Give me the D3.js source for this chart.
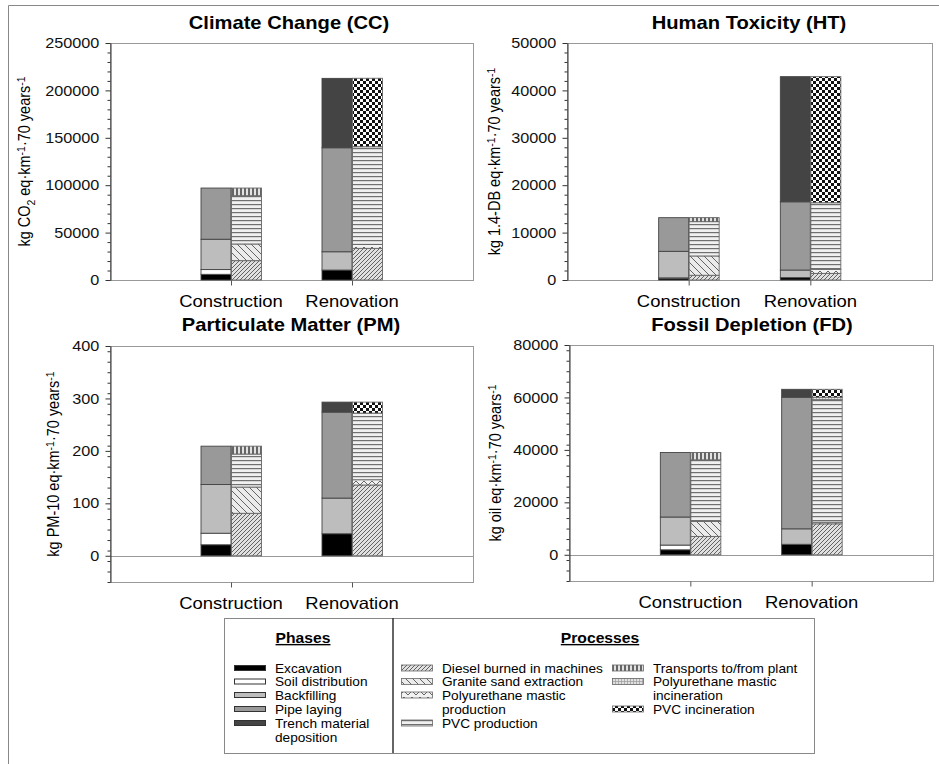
<!DOCTYPE html>
<html>
<head>
<meta charset="utf-8">
<script src="https://cdn.jsdelivr.net/npm/d3@7"></script>
<style>
body { margin: 0; background: #fff; }
text { font-family: "Liberation Sans", Arial, sans-serif; fill: #000; }
</style>
</head>
<body>
<div id="chart"></div>
<script>

var categories = ["Construction", "Renovation"];
var phases = ["Excavation", "Soil distribution", "Backfilling", "Pipe laying", "Trench material deposition"];
var processes = ["Diesel burned in machines", "Granite sand extraction", "Polyurethane mastic production",
  "PVC production", "Transports to/from plant", "Polyurethane mastic incineration", "PVC incineration"];

// one row per category (Construction, Renovation), one value per phase / process
var ccPhases = [[6000, 5000, 32000, 54000, 0], [10500, 0, 19300, 109700, 73200]];
var ccProcesses = [[20400, 17600, 0, 50900, 8100, 0, 0], [33400, 0, 4200, 103000, 0, 0, 72200]];
var htPhases = [[350, 100, 5600, 7100, 0], [500, 0, 1600, 14400, 26400]];
var htProcesses = [[1000, 4070, 0, 7240, 850, 0, 0], [1400, 0, 850, 14050, 0, 0, 26600]];
var pmPhases = [[21, 22, 93, 73, 0], [42, 0, 68, 164, 19]];
var pmProcesses = [[81, 50, 0, 63, 15, 0, 0], [135, 0, 10, 127, 0, 0, 21]];
var fdPhases = [[1900, 1800, 10700, 24600, 0], [4000, 0, 5900, 50200, 3000]];
var fdProcesses = [[7000, 5700, 0, 23500, 2800, 0, 0], [11800, 0, 600, 46700, 0, 1000, 3000]];

var ccTicks = [0, 50000, 100000, 150000, 200000, 250000];
var htTicks = [0, 10000, 20000, 30000, 40000, 50000];
var pmTicks = [0, 100, 200, 300, 400];
var fdTicks = [0, 20000, 40000, 60000, 80000];

var W = 939, H = 764, SX = 1.12, barW = 30;

var phaseFill = ["#000", "#fff", "#bdbdbd", "#999", "#444"];
var processFill = ["url(#diesel)", "url(#granite)", "url(#puprod)", "url(#pvcprod)",
  "url(#transports)", "url(#puinc)", "url(#pvcinc)"];

var panels = [
  {title: "Climate Change (CC)", phases: ccPhases, processes: ccProcesses, ticks: ccTicks,
   domain: [0, 250000], minor: 10000, left: 110, right: 473, top: 43, bottom: 280,
   titleX: 289, titleY: 29, labelX: 30,
   unit: [["kg CO", 0], ["2", 1], [" eq·km", 0], ["-1", -1], ["·70 years", 0], ["-1", -1]]},
  {title: "Human Toxicity (HT)", phases: htPhases, processes: htProcesses, ticks: htTicks,
   domain: [0, 50000], minor: 2000, left: 567, right: 932, top: 43, bottom: 280,
   titleX: 749, titleY: 29, labelX: 500,
   unit: [["kg 1.4-DB eq·km", 0], ["-1", -1], ["·70 years", 0], ["-1", -1]]},
  {title: "Particulate Matter (PM)", phases: pmPhases, processes: pmProcesses, ticks: pmTicks,
   domain: [-50, 400], minor: 20, left: 110, right: 473, top: 346, bottom: 582,
   titleX: 291, titleY: 331, labelX: 59,
   unit: [["kg PM-10 eq·km", 0], ["-1", -1], ["·70 years", 0], ["-1", -1]]},
  {title: "Fossil Depletion (FD)", phases: fdPhases, processes: fdProcesses, ticks: fdTicks,
   domain: [-10000, 80000], minor: 4000, left: 569, right: 933, top: 345, bottom: 581,
   titleX: 752, titleY: 331, labelX: 501,
   unit: [["kg oil eq·km", 0], ["-1", -1], ["·70 years", 0], ["-1", -1]]}
];

var svg = d3.select("#chart").append("svg")
.attr("width", W)
.attr("height", H);

var defs = svg.append("defs");

function pattern(id, w, h, bg, d, stroke, sw, fill){
  var p = defs.append("pattern")
  .attr("id", id)
  .attr("patternUnits", "userSpaceOnUse")
  .attr("width", w)
  .attr("height", h);
  p.append("rect").attr("width", w).attr("height", h).attr("fill", bg);
  p.append("path")
  .attr("d", d)
  .attr("fill", fill || "none")
  .attr("stroke", stroke)
  .attr("stroke-width", sw);
}

pattern("diesel", 4, 4, "#e0e0e0", "M-1,1L1,-1M0,4L4,0M3,5L5,3", "#555", 0.9);
pattern("granite", 7, 7, "#ebebeb", "M0,0L7,7M-1,6L1,8M6,-1L8,1", "#555", 0.9);
pattern("puprod", 8, 6, "#f2f2f2", "M0,5L4,1L8,5", "#555", 0.9);
pattern("pvcprod", 4, 4, "#f0f0f0", "M0,0.6H4", "#707070", 1.2);
pattern("transports", 4, 4, "#e2e2e2", "M1,0V4", "#222", 1.3);
pattern("puinc", 3, 3, "#e0e0e0", "M0,0.5H3M0.5,0V3", "#999", 0.7);
pattern("pvcinc", 6, 6, "#fff", "M0,0h3v3h-3zM3,3h3v3h-3z", "none", 0, "#111");

// stretched text (the reference is a bit wider than tall)
function stretchText(parent, x, y, str, size, opts){
  opts = opts || {};
  var t = parent.append("text")
  .attr("transform", "translate(" + x + "," + y + ") scale(" + SX + ",1)" + (opts.rotate ? " rotate(-90)" : ""))
  .attr("font-size", size)
  .attr("text-anchor", opts.anchor || "start");
  if (opts.bold) t.attr("font-weight", "bold");
  if (opts.underline) t.attr("text-decoration", "underline");
  t.text(str);
  return t;
}

// outer frame
svg.append("path")
.attr("d", "M8.5,764V5.5H939")
.attr("fill", "none")
.attr("stroke", "#888");

panels.forEach(function(p){
  var g = svg.append("g");

  var y = d3.scaleLinear().domain(p.domain).range([p.bottom, p.top]);
  var x = d3.scalePoint().domain(["_l"].concat(categories, ["_r"])).range([p.left, p.right]);

  g.append("rect")
  .attr("x", p.left + 0.5)
  .attr("y", p.top + 0.5)
  .attr("width", p.right - p.left)
  .attr("height", p.bottom - p.top)
  .attr("fill", "#fff")
  .attr("stroke", "#999");

  if (p.domain[0] < 0){
    g.append("line")
    .attr("x1", p.left).attr("x2", p.right)
    .attr("y1", Math.round(y(0)) + 0.5).attr("y2", Math.round(y(0)) + 0.5)
    .attr("stroke", "#999");
  }

  var stackPh = d3.stack().keys(d3.range(phases.length)).value(function(d, k){ return d[k]; });
  var stackPr = d3.stack().keys(d3.range(processes.length)).value(function(d, k){ return d[k]; });

  function drawStack(series, fills, dx, stroke){
    g.append("g")
    .selectAll("g")
    .data(series)
    .join("g")
    .attr("fill", function(d, i){ return fills[i]; })
    .selectAll("rect")
    .data(function(d){
      return d.map(function(s, i){ return {y0: s[0], y1: s[1], cat: categories[i]}; })
      .filter(function(s){ return s.y1 - s.y0 > 0; });
    })
    .join("rect")
    .attr("x", function(d){ return x(d.cat) + dx; })
    .attr("y", function(d){ return y(d.y1); })
    .attr("width", barW)
    .attr("height", function(d){ return y(d.y0) - y(d.y1); })
    .attr("stroke", stroke)
    .attr("stroke-width", 0.9);
  }

  drawStack(stackPh(p.phases), phaseFill, -barW, "#444");
  drawStack(stackPr(p.processes), processFill, 0.5, "#666");

  // y axis, major + minor ticks
  var minorTicks = d3.range(p.domain[0], p.domain[1] + p.minor / 2, p.minor)
  .filter(function(v){ return p.ticks.indexOf(v) < 0; });

  var ax = g.append("g")
  .attr("transform", "translate(" + (p.left + 0.5) + ",0)")
  .call(d3.axisLeft(y).tickValues(p.ticks).tickSize(5).tickSizeOuter(0).tickPadding(5).tickFormat(d3.format("d")))
  .attr("font-size", null)
  .attr("font-family", null);
  ax.select(".domain").attr("stroke", "#333");
  ax.selectAll(".tick line").attr("stroke", "#333");
  ax.selectAll(".tick text")
  .attr("font-size", 14.5)
  .attr("transform", "scale(" + SX + ",1)")
  .style("fill", "#111");

  var mx = g.append("g")
  .attr("transform", "translate(" + (p.left + 0.5) + ",0)")
  .call(d3.axisLeft(y).tickValues(minorTicks).tickSize(3).tickFormat(""));
  mx.select(".domain").remove();
  mx.selectAll(".tick line").attr("stroke", "#333");

  // category ticks and labels
  var cx = g.append("g")
  .attr("transform", "translate(0," + (p.bottom + 0.5) + ")")
  .call(d3.axisBottom(x).tickValues(categories).tickSize(5).tickFormat(""));
  cx.select(".domain").remove();
  cx.selectAll(".tick line").attr("stroke", "#555");

  categories.forEach(function(c){
    stretchText(g, x(c), p.bottom + 27, c, 16.5, {anchor: "middle"});
  });

  stretchText(g, p.titleX, p.titleY, p.title, 18, {anchor: "middle", bold: true});

  var yl = stretchText(g, p.labelX, (p.top + p.bottom) / 2, "", 14.5, {anchor: "middle", rotate: true});
  var shift = 0;
  p.unit.forEach(function(u){
    var dy = u[1] * 4.5 - shift;
    shift = u[1] * 4.5;
    yl.append("tspan")
    .attr("dy", dy)
    .attr("font-size", u[1] ? 10.5 : null)
    .text(u[0]);
  });
});

// legend
var lg = svg.append("g");

lg.append("rect")
.attr("x", 224.5).attr("y", 618.5)
.attr("width", 590).attr("height", 135)
.attr("fill", "#fff")
.attr("stroke", "#888");

lg.append("line")
.attr("x1", 393).attr("x2", 393)
.attr("y1", 618).attr("y2", 753)
.attr("stroke", "#333")
.attr("stroke-width", 1.5);

stretchText(lg, 303, 643, "Phases", 14, {anchor: "middle", bold: true, underline: true});
stretchText(lg, 600, 643, "Processes", 14, {anchor: "middle", bold: true, underline: true});

var phaseRows = [668, 681.5, 695, 709, 723];
var phaseLines = [["Excavation"], ["Soil distribution"], ["Backfilling"], ["Pipe laying"], ["Trench material", "deposition"]];

phases.forEach(function(ph, i){
  lg.append("rect")
  .attr("x", 234.5).attr("y", phaseRows[i] - 2.5)
  .attr("width", 31).attr("height", 5)
  .attr("fill", phaseFill[i])
  .attr("stroke", "#333");
  phaseLines[i].forEach(function(line, j){
    stretchText(lg, 275, phaseRows[i] + 4.5 + j * 14, line, 12.2);
  });
});

var procItems = [
  {x: 401, y: 668, lines: ["Diesel burned in machines"]},
  {x: 401, y: 681.5, lines: ["Granite sand extraction"]},
  {x: 401, y: 695, lines: ["Polyurethane mastic", "production"]},
  {x: 401, y: 723, lines: ["PVC production"]},
  {x: 612, y: 668, lines: ["Transports to/from plant"]},
  {x: 612, y: 681.5, lines: ["Polyurethane mastic", "incineration"]},
  {x: 612, y: 709, lines: ["PVC incineration"]}
];

processes.forEach(function(pr, i){
  var it = procItems[i];
  lg.append("rect")
  .attr("x", it.x + 0.5).attr("y", it.y - 3)
  .attr("width", 31).attr("height", 6)
  .attr("fill", processFill[i])
  .attr("stroke", "#666")
  .attr("stroke-width", 0.8);
  it.lines.forEach(function(line, j){
    stretchText(lg, it.x + 41, it.y + 4.5 + j * 14, line, 12.2);
  });
});

</script>
</body>
</html>
